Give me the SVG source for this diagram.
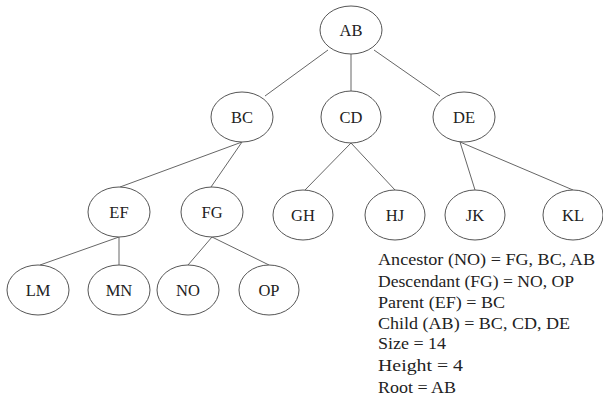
<svg xmlns="http://www.w3.org/2000/svg" width="603" height="398" viewBox="0 0 603 398">
<style>
.n ellipse{fill:#fff;stroke:#555;stroke-width:1}
.n text{font-family:"Liberation Serif","Times New Roman",serif;font-size:16.5px;fill:#222;text-anchor:middle}
.e line{stroke:#666;stroke-width:1}
.t{font-family:"Liberation Serif","Times New Roman",serif;font-size:17px;fill:#222}
</style>
<rect width="603" height="398" fill="#fff"/>
<g class="e" id="connectors">
<line x1="328" y1="50" x2="265" y2="96"/>
<line x1="351" y1="54" x2="351" y2="91"/>
<line x1="374" y1="50" x2="440" y2="96"/>
<line x1="242" y1="142" x2="120" y2="187"/>
<line x1="242" y1="142" x2="211" y2="187"/>
<line x1="351" y1="143" x2="305" y2="190"/>
<line x1="351" y1="143" x2="395" y2="190"/>
<line x1="460" y1="142" x2="475" y2="190"/>
<line x1="460" y1="142" x2="573" y2="190"/>
<line x1="119" y1="237" x2="40" y2="265"/>
<line x1="119" y1="237" x2="119" y2="265"/>
<line x1="212" y1="237" x2="188" y2="265"/>
<line x1="212" y1="237" x2="269" y2="265"/>
</g>
<g class="n" id="AB"><ellipse cx="351" cy="30" rx="31" ry="24"/><text x="351" y="36">AB</text></g>
<g class="n" id="BC"><ellipse cx="242" cy="117" rx="31" ry="25"/><text x="242" y="123">BC</text></g>
<g class="n" id="CD"><ellipse cx="351" cy="117" rx="30" ry="26"/><text x="351" y="123">CD</text></g>
<g class="n" id="DE"><ellipse cx="464" cy="117" rx="31" ry="25"/><text x="464" y="123">DE</text></g>
<g class="n" id="EF"><ellipse cx="119" cy="212" rx="31" ry="25"/><text x="119" y="218">EF</text></g>
<g class="n" id="FG"><ellipse cx="212" cy="212" rx="31" ry="25"/><text x="212" y="218">FG</text></g>
<g class="n" id="GH"><ellipse cx="303" cy="215" rx="30" ry="25"/><text x="303" y="221">GH</text></g>
<g class="n" id="HJ"><ellipse cx="395" cy="215" rx="30" ry="25"/><text x="395" y="221">HJ</text></g>
<g class="n" id="JK"><ellipse cx="475" cy="215" rx="30" ry="25"/><text x="475" y="221">JK</text></g>
<g class="n" id="KL"><ellipse cx="573" cy="215" rx="30" ry="25"/><text x="573" y="221">KL</text></g>
<g class="n" id="LM"><ellipse cx="38" cy="290" rx="31" ry="25"/><text x="38" y="296">LM</text></g>
<g class="n" id="MN"><ellipse cx="119" cy="290" rx="31" ry="25"/><text x="119" y="296">MN</text></g>
<g class="n" id="NO"><ellipse cx="188" cy="290" rx="31" ry="25"/><text x="188" y="296">NO</text></g>
<g class="n" id="OP"><ellipse cx="269" cy="290" rx="30" ry="25"/><text x="269" y="296">OP</text></g>
<g id="notes">
<text class="t" x="378" y="265" textLength="217" lengthAdjust="spacingAndGlyphs">Ancestor (NO) = FG, BC, AB</text>
<text class="t" x="378" y="287" textLength="196" lengthAdjust="spacingAndGlyphs">Descendant (FG) = NO, OP</text>
<text class="t" x="378" y="308" textLength="127" lengthAdjust="spacingAndGlyphs">Parent (EF) = BC</text>
<text class="t" x="378" y="329" textLength="192" lengthAdjust="spacingAndGlyphs">Child (AB) = BC, CD, DE</text>
<text class="t" x="378" y="349" textLength="68" lengthAdjust="spacingAndGlyphs">Size = 14</text>
<text class="t" x="378" y="371" textLength="85" lengthAdjust="spacingAndGlyphs">Height = 4</text>
<text class="t" x="378" y="393" textLength="78" lengthAdjust="spacingAndGlyphs">Root = AB</text>
</g>
</svg>
